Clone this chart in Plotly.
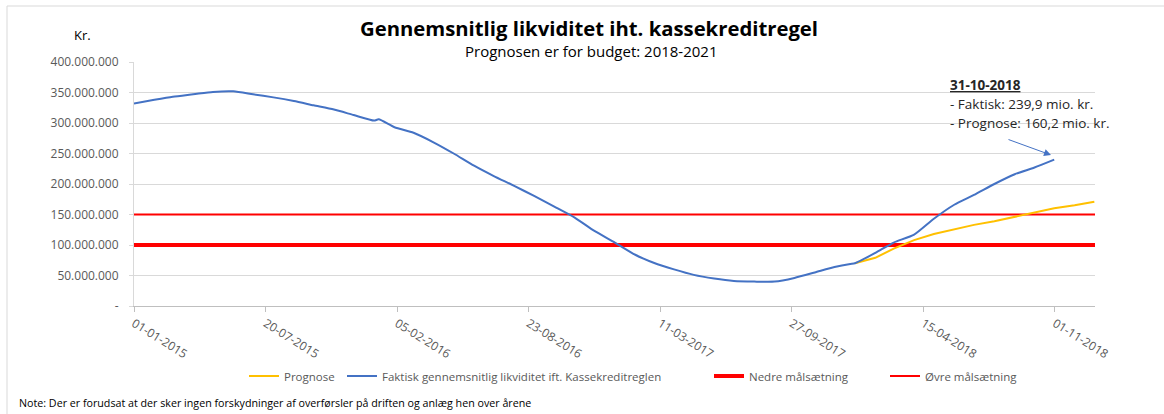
import plotly.graph_objects as go

# ---------------- data ----------------
faktisk_dates = [
    "2015-01-01", "2015-02-01", "2015-03-01", "2015-04-01", "2015-05-01", "2015-06-01",
    "2015-07-01", "2015-08-01", "2015-09-01", "2015-10-01", "2015-11-01", "2015-12-01",
    "2016-01-01", "2016-01-08", "2016-02-01", "2016-03-01", "2016-04-01", "2016-05-01",
    "2016-06-01", "2016-07-01", "2016-08-01", "2016-09-01", "2016-10-01", "2016-11-01",
    "2016-12-01", "2017-01-01", "2017-02-01", "2017-03-01", "2017-04-01", "2017-05-01",
    "2017-06-01", "2017-07-01", "2017-08-01", "2017-09-01", "2017-10-01", "2017-11-01",
    "2017-12-01", "2017-12-25", "2018-01-01", "2018-02-01", "2018-03-01", "2018-04-01",
    "2018-05-01", "2018-06-01", "2018-07-01", "2018-08-01", "2018-09-01", "2018-10-01",
    "2018-10-31",
]
faktisk_mio = [
    332, 338, 343, 347, 351, 352,
    347, 342, 336, 329, 322, 313,
    304, 306, 293, 284, 268, 250,
    230, 213, 197, 180, 163, 145,
    123, 104, 84, 71, 60, 51,
    45, 41, 40, 40, 46, 55,
    64, 69, 70, 87, 104, 117,
    143, 166, 182, 200, 216, 227,
    239.9,
]

prognose_dates = [
    "2018-01-01", "2018-02-01", "2018-03-01", "2018-04-01", "2018-05-01", "2018-06-01",
    "2018-07-01", "2018-08-01", "2018-09-01", "2018-10-01", "2018-10-31", "2018-12-01",
    "2018-12-31",
]
prognose_mio = [70, 79, 94, 108, 118, 126, 133, 139, 146, 153, 160.2, 165, 171]

maal_dates = ["2015-01-01", "2019-01-01"]
nedre_mio = [100, 100]
oevre_mio = [150, 150]

y_tickvals_mio = [0, 50, 100, 150, 200, 250, 300, 350, 400]
y_ticktext = ["-", "50.000.000", "100.000.000", "150.000.000", "200.000.000",
              "250.000.000", "300.000.000", "350.000.000", "400.000.000"]

MIO = 1_000_000

# ---------------- layout helpers (pixel -> paper) ----------------
W, H = 1164, 414
L, R, T, B = 134, 1095, 62, 306
PW, PH = R - L, B - T


def px(x):
    return (x - L) / PW


def py(y):
    return (B - y) / PH


FONT = "Open Sans"
GREY = "#595959"
BLUE = "#4472C4"
YELLOW = "#FFC000"
RED = "#FF0000"

fig = go.Figure()

fig.add_trace(go.Scatter(
    x=maal_dates, y=[v * MIO for v in nedre_mio], mode="lines",
    name="Nedre målsætning", line=dict(color=RED, width=4), legend="legend3",
))
fig.add_trace(go.Scatter(
    x=maal_dates, y=[v * MIO for v in oevre_mio], mode="lines",
    name="Øvre målsætning", line=dict(color=RED, width=2), legend="legend4",
))
fig.add_trace(go.Scatter(
    x=prognose_dates, y=[v * MIO for v in prognose_mio], mode="lines",
    name="Prognose", line=dict(color=YELLOW, width=2), legend="legend",
))
fig.add_trace(go.Scatter(
    x=faktisk_dates, y=[v * MIO for v in faktisk_mio], mode="lines",
    name="Faktisk gennemsnitlig likviditet ift. Kassekreditreglen",
    line=dict(color=BLUE, width=2, shape="spline", smoothing=0.6), legend="legend2",
))


def leg(line_start):
    return dict(
        orientation="h", x=px(line_start - 8), y=py(376), xanchor="left",
        yanchor="middle", font=dict(size=11.5, color=GREY), itemwidth=30,
        bgcolor="rgba(0,0,0,0)",
    )


fig.update_layout(
    width=W, height=H,
    margin=dict(l=L, r=W - R, t=T, b=H - B, pad=0, autoexpand=False),
    paper_bgcolor="white", plot_bgcolor="white",
    font=dict(family=FONT, size=12, color=GREY),
    showlegend=True,
    legend=leg(252), legend2=leg(350), legend3=leg(717), legend4=leg(893),
    title=dict(
        text="<b>Gennemsnitlig likviditet iht. kassekreditregel</b>",
        x=589 / W, y=1 - 29 / H, xanchor="center", yanchor="middle",
        font=dict(family=FONT, size=20.3, color="#000000"),
    ),
    xaxis=dict(
        type="date", range=["2015-01-01", "2019-01-01"],
        tick0="2015-01-01", dtick=200 * 86400000, tickformat="%d-%m-%Y",
        tickangle=32, ticks="outside", ticklen=5, tickcolor="#BFBFBF",
        showline=True, linecolor="#BFBFBF", linewidth=1,
        showgrid=False, zeroline=False, automargin=False,
        tickfont=dict(size=12, color=GREY),
    ),
    yaxis=dict(
        range=[0, 400 * MIO], tickvals=[v * MIO for v in y_tickvals_mio],
        ticktext=y_ticktext, ticks="outside", ticklen=4, tickcolor="#D9D9D9",
        showline=True, linecolor="#D9D9D9", linewidth=1, automargin=False,
        showgrid=True, gridcolor="#D9D9D9", gridwidth=1, zeroline=False,
        tickfont=dict(size=12, color=GREY), ticklabelstandoff=8,
    ),
)

annos = [
    dict(text="Prognosen er for budget: 2018-2021", x=px(591), y=py(51),
         xanchor="center", yanchor="middle", font=dict(size=15, color="#000000")),
    dict(text="Kr.", x=px(82), y=py(35), xanchor="center", yanchor="middle",
         font=dict(size=13, color="#000000")),
    dict(text="<b><u>31-10-2018</u></b>", x=px(948), y=py(85), xanchor="left",
         yanchor="middle", font=dict(size=13.5, color="#262626")),
    dict(text="- Faktisk: 239,9 mio. kr.", x=px(948), y=py(104), xanchor="left",
         yanchor="middle", font=dict(size=13.5, color="#262626")),
    dict(text="- Prognose: 160,2 mio. kr.", x=px(948), y=py(123), xanchor="left",
         yanchor="middle", font=dict(size=13.5, color="#262626")),
    dict(text="Note: Der er forudsat at der sker ingen forskydninger af overførsler på driften og anlæg hen over årene",
         x=px(17), y=py(403), xanchor="left", yanchor="middle",
         font=dict(size=10.7, color="#000000")),
]
for a in annos:
    fig.add_annotation(xref="paper", yref="paper", showarrow=False, **a)

fig.add_annotation(
    xref="paper", yref="paper", x=px(1051), y=py(155), text="",
    showarrow=True, ax=-44, ay=-16, arrowhead=2, arrowsize=1.4, arrowwidth=1,
    arrowcolor=BLUE,
)

# chart frame (top and left edges visible)
fig.add_shape(type="line", xref="paper", yref="paper", x0=px(7), x1=px(1164),
              y0=py(6), y1=py(6), line=dict(color="#D9D9D9", width=1))
fig.add_shape(type="line", xref="paper", yref="paper", x0=px(7), x1=px(7),
              y0=py(6), y1=py(414), line=dict(color="#D9D9D9", width=1))

fig.write_html(
    "out.html",
    config={"displayModeBar": False},
    post_script="document.body.style.margin='0';document.body.style.padding='0';",
)
